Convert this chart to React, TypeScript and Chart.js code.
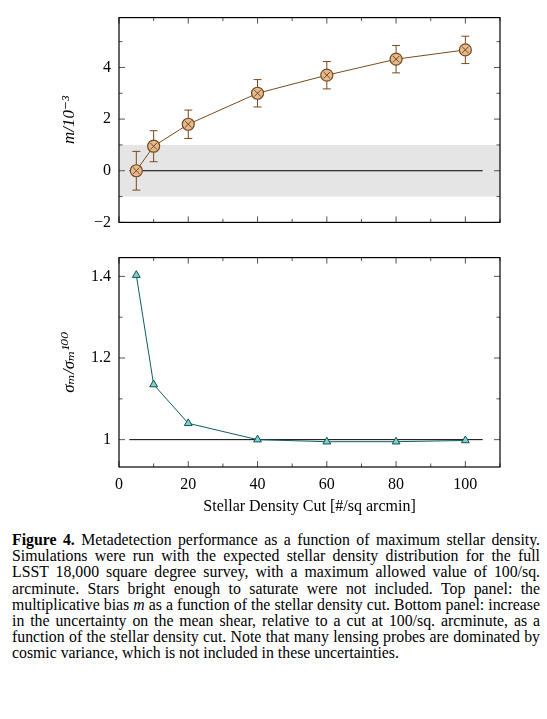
import React, { useEffect, useRef } from "react";
import { Chart, registerables } from "chart.js";
Chart.register(...registerables);

const cuts = [5, 10, 20, 40, 60, 80, 100];
const bias = [0.0, 0.95, 1.8, 3.0, 3.7, 4.32, 4.68];
const biasErr = [0.75, 0.6, 0.55, 0.53, 0.53, 0.53, 0.53];
const ratio = [1.403, 1.135, 1.04, 1.0, 0.995, 0.995, 0.998];
const topTicks = [-2, 0, 2, 4];
const botTicks = [1, 1.2, 1.4];
const xTicks = [0, 20, 40, 60, 80, 100];

const FONT = "'Liberation Serif', 'DejaVu Serif', serif";
const brown = "#7a4a1e";

// ticks drawn inward on all four sides, band + reference line
const frame = (minorY: number[], majorY: number[], band: boolean, refY: number) => ({
  id: "frame",
  beforeDatasetsDraw(c: any) {
    const { ctx, chartArea: a, scales } = c;
    const x = scales.x, y = scales.y;
    ctx.save();
    if (band) {
      ctx.fillStyle = "#e5e5e5";
      const t = y.getPixelForValue(1), b = y.getPixelForValue(-1);
      ctx.fillRect(a.left, t, a.right - a.left, b - t);
    }
    ctx.strokeStyle = "#000";
    ctx.lineWidth = 1;
    ctx.beginPath();
    const ry = y.getPixelForValue(refY);
    ctx.moveTo(x.getPixelForValue(3), ry);
    ctx.lineTo(x.getPixelForValue(105), ry);
    ctx.stroke();
    ctx.strokeStyle = "#555";
    ctx.beginPath();
    for (let v = 0; v <= 110; v += 10) {
      const px = x.getPixelForValue(v);
      const len = v % 20 === 0 ? 6 : 3.5;
      ctx.moveTo(px, a.top); ctx.lineTo(px, a.top + len);
      ctx.moveTo(px, a.bottom); ctx.lineTo(px, a.bottom - len);
    }
    [...minorY.map((v) => [v, 3.5]), ...majorY.map((v) => [v, 6])].forEach(([v, len]) => {
      const py = y.getPixelForValue(v);
      ctx.moveTo(a.left, py); ctx.lineTo(a.left + len, py);
      ctx.moveTo(a.right, py); ctx.lineTo(a.right - len, py);
    });
    ctx.stroke();
    ctx.restore();
  },
  afterDatasetsDraw(c: any) {
    const { ctx, chartArea: a } = c;
    ctx.save();
    ctx.strokeStyle = "#000";
    ctx.lineWidth = 1.2;
    ctx.strokeRect(a.left, a.top, a.right - a.left, a.bottom - a.top);
    ctx.restore();
  },
});

const errorBars = {
  id: "errorBars",
  beforeDatasetsDraw(c: any) {
    const { ctx, scales } = c;
    ctx.save();
    ctx.strokeStyle = brown;
    ctx.lineWidth = 1;
    ctx.beginPath();
    cuts.forEach((cx, i) => {
      const px = scales.x.getPixelForValue(cx);
      const t = scales.y.getPixelForValue(bias[i] + biasErr[i]);
      const b = scales.y.getPixelForValue(bias[i] - biasErr[i]);
      ctx.moveTo(px, t); ctx.lineTo(px, b);
      ctx.moveTo(px - 4, t); ctx.lineTo(px + 4, t);
      ctx.moveTo(px - 4, b); ctx.lineTo(px + 4, b);
    });
    ctx.stroke();
    ctx.restore();
  },
};

const baseScales = (ymin: number, ymax: number, ticks: number[], title: string, showX: boolean) => ({
  x: {
    type: "linear" as const,
    min: 0,
    max: 110,
    grid: { display: false, drawTicks: false },
    border: { display: false },
    afterBuildTicks: (s: any) => { s.ticks = xTicks.map((v) => ({ value: v })); },
    afterFit: (s: any) => { s.height = showX ? 53 : 13; },
    ticks: { display: showX, color: "#000", padding: 8, font: { family: FONT, size: 16 } },
    title: { display: showX, text: "Stellar Density Cut [#/sq arcmin]", color: "#000", padding: { top: 4 }, font: { family: FONT, size: 16 } },
  },
  y: {
    min: ymin,
    max: ymax,
    grid: { display: false, drawTicks: false },
    border: { display: false },
    afterBuildTicks: (s: any) => { s.ticks = ticks.map((v) => ({ value: v })); },
    afterFit: (s: any) => { s.width = 64; },
    ticks: { color: "#000", padding: 8, font: { family: FONT, size: 16 }, callback: (v: any) => (v < 0 ? "−" + Math.abs(v) : String(v)) },
    title: { display: true, text: title, color: "#000", font: { family: FONT, size: 17, style: "italic" as const } },
  },
});

const App: React.FC = () => {
  const topRef = useRef<HTMLCanvasElement | null>(null);
  const botRef = useRef<HTMLCanvasElement | null>(null);

  useEffect(() => {
    const top = new Chart(topRef.current!, {
      type: "line",
      data: {
        datasets: [
          {
            data: cuts.map((x, i) => ({ x, y: bias[i] })),
            order: 2,
            borderColor: brown,
            borderWidth: 1,
            pointStyle: "circle",
            pointRadius: 6,
            pointBackgroundColor: "#e3b98f",
            pointBorderColor: brown,
            pointBorderWidth: 1.2,
          },
          {
            data: cuts.map((x, i) => ({ x, y: bias[i] })),
            order: 1,
            showLine: false,
            pointStyle: "crossRot",
            pointRadius: 4.5,
            pointBorderColor: brown,
            pointBorderWidth: 1,
          },
        ],
      },
      options: {
        animation: false,
        responsive: false,
        layout: { padding: { top: 5, right: 47, left: 55 } },
        plugins: { legend: { display: false }, tooltip: { enabled: false } },
        scales: baseScales(-2, 5.93, topTicks, "m/10⁻³", false),
      },
      plugins: [frame([-1, 1, 3, 5], topTicks, true, 0), errorBars],
    });
    const bot = new Chart(botRef.current!, {
      type: "line",
      data: {
        datasets: [
          {
            data: cuts.map((x, i) => ({ x, y: ratio[i] })),
            borderColor: "#0f5d5d",
            borderWidth: 1,
            pointStyle: "triangle",
            pointRadius: 4.5,
            pointBackgroundColor: "#7fd3cc",
            pointBorderColor: "#0f4f4f",
            pointBorderWidth: 1,
          },
        ],
      },
      options: {
        animation: false,
        responsive: false,
        layout: { padding: { top: 5, right: 47, left: 55 } },
        plugins: { legend: { display: false }, tooltip: { enabled: false } },
        scales: baseScales(0.933, 1.446, botTicks, "σₘ/σₘ¹⁰⁰", true),
      },
      plugins: [frame([1.1, 1.3], botTicks, false, 1)],
    });
    return () => { top.destroy(); bot.destroy(); };
  }, []);

  return (
    <div style={{ position: "absolute", left: 0, top: 0, width: 547, height: 719, background: "#fff" }}>
      <canvas ref={topRef} width={547} height={240} style={{ position: "absolute", left: 0, top: 0 }} />
      <canvas ref={botRef} width={547} height={280} style={{ position: "absolute", left: 0, top: 240 }} />
      <div
        style={{
          position: "absolute",
          left: 12,
          top: 532,
          width: 528,
          fontFamily: FONT,
          fontSize: 15.8,
          lineHeight: "16.2px",
          textAlign: "justify",
          color: "#000",
        }}
      >
        <b>Figure 4.</b> Metadetection performance as a function of maximum stellar density. Simulations were run with the expected stellar density distribution for the full LSST 18,000 square degree survey, with a maximum allowed value of 100/sq. arcminute. Stars bright enough to saturate were not included. Top panel: the multiplicative bias <i>m</i> as a function of the stellar density cut. Bottom panel: increase in the uncertainty on the mean shear, relative to a cut at 100/sq. arcminute, as a function of the stellar density cut. Note that many lensing probes are dominated by cosmic variance, which is not included in these uncertainties.
      </div>
    </div>
  );
};

export default App;
